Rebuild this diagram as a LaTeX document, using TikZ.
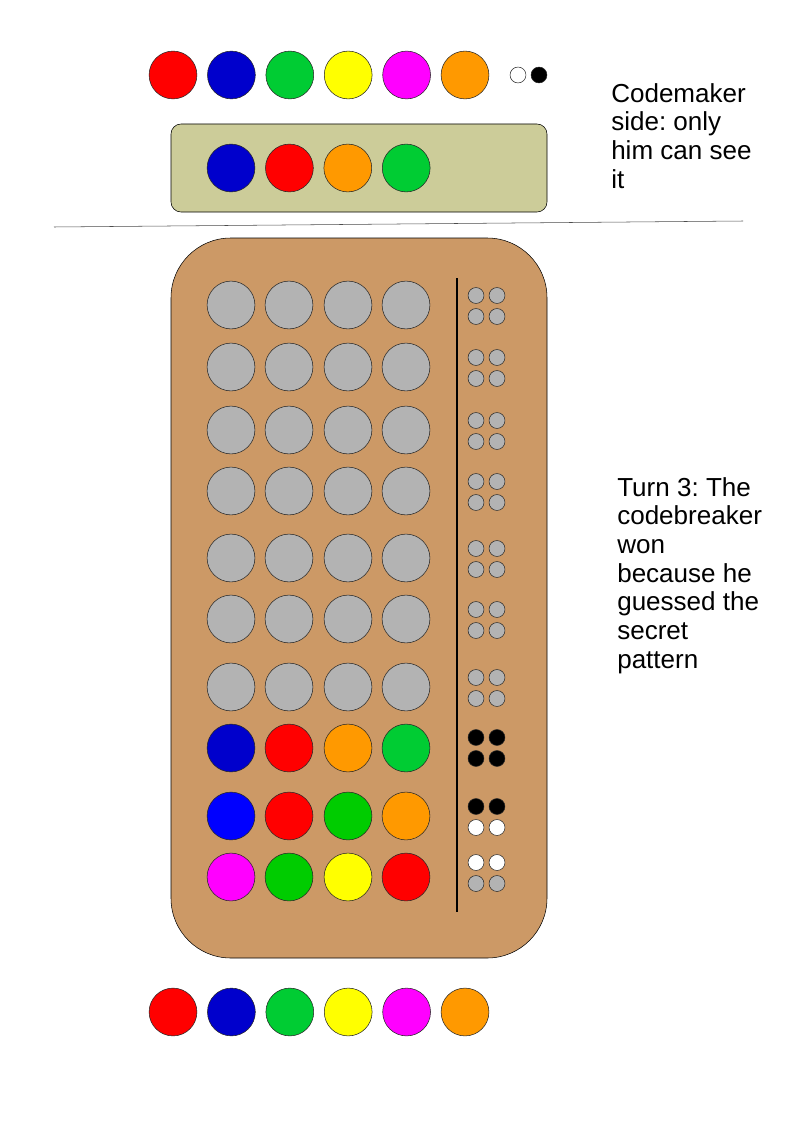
\documentclass[tikz,border=0pt]{standalone}
\usepackage{fontspec}
\setmainfont{Liberation Sans}
\usetikzlibrary{positioning}
\definecolor{pegred}{HTML}{FF0000}
\definecolor{pegblue}{HTML}{0000CC}
\definecolor{pegbrightblue}{HTML}{0000FF}
\definecolor{peggreen}{HTML}{00CC33}
\definecolor{peglime}{HTML}{00CC00}
\definecolor{pegyellow}{HTML}{FFFF00}
\definecolor{pegmagenta}{HTML}{FF00FF}
\definecolor{pegorange}{HTML}{FF9900}
\definecolor{peggray}{HTML}{B3B3B3}
\definecolor{boardbrown}{HTML}{CC9966}
\definecolor{shieldkhaki}{HTML}{CCCC99}
\frenchspacing

\begin{document}
\begin{tikzpicture}[x=0.02646cm,y=-0.02646cm,
    peg/.style={circle, draw=black!85, minimum size=36pt, inner sep=0pt},
    keypeg/.style={circle, draw=black!85, minimum size=12pt, inner sep=0pt},
    note/.style={anchor=north west, align=left, inner sep=0pt, font=\fontsize{19.6}{21.6}\selectfont}
]
    \useasboundingbox (0,0) rectangle (794,1123);

    % colours on offer (top)
    \foreach \c [count=\i] in {pegred,pegblue,peggreen,pegyellow,pegmagenta,pegorange}
        \node[peg, fill=\c] (top\i) at ({173+58.4*(\i-1)},75) {};
    \node[keypeg, fill=white] (topwhite) at (518,75) {};
    \node[keypeg, fill=black] (topblack) at (539,75) {};

    % hidden code
    \draw[fill=shieldkhaki, rounded corners=7.5pt] (171,124) rectangle (547,212);
    \foreach \c [count=\i] in {pegblue,pegred,pegorange,peggreen}
        \node[peg, fill=\c] (code\i) at ({231+58.4*(\i-1)},168) {};

    \node[note] (makernote) at (611,83) {Codemaker\\side: only\\him can see\\it};

    % separator
    \coordinate (sepl) at (54,227);
    \coordinate (sepr) at (743,221);
    \draw[black!70] (sepl) -- (sepr);

    % board
    \draw[fill=boardbrown, rounded corners=45pt] (171,238) rectangle (547,958);
    \draw[line width=1.5pt] (457,278) -- (457,912);

    % guesses
    \foreach \y/\a/\b/\c/\d [count=\r] in {
        305/peggray/peggray/peggray/peggray,
        367/peggray/peggray/peggray/peggray,
        430/peggray/peggray/peggray/peggray,
        491/peggray/peggray/peggray/peggray,
        558/peggray/peggray/peggray/peggray,
        619/peggray/peggray/peggray/peggray,
        687/peggray/peggray/peggray/peggray,
        748/pegblue/pegred/pegorange/peggreen,
        816/pegbrightblue/pegred/peglime/pegorange,
        877/pegmagenta/peglime/pegyellow/pegred}
    {
        \node[peg, fill=\a] (g\r a) at (231,\y) {};
        \node[peg, fill=\b] (g\r b) at (289,\y) {};
        \node[peg, fill=\c] (g\r c) at (348,\y) {};
        \node[peg, fill=\d] (g\r d) at (406,\y) {};
    }

    % feedback
    \foreach \y/\a/\b/\c/\d [count=\r] in {
        306/peggray/peggray/peggray/peggray,
        368/peggray/peggray/peggray/peggray,
        431/peggray/peggray/peggray/peggray,
        492/peggray/peggray/peggray/peggray,
        559/peggray/peggray/peggray/peggray,
        620/peggray/peggray/peggray/peggray,
        688/peggray/peggray/peggray/peggray,
        748/black/black/black/black,
        817/black/black/white/white,
        873/white/white/peggray/peggray}
    {
        \node[keypeg, fill=\a] (k\r a) at (476,\y-10.5) {};
        \node[keypeg, fill=\b] (k\r b) at (497,\y-10.5) {};
        \node[keypeg, fill=\c] (k\r c) at (476,\y+10.5) {};
        \node[keypeg, fill=\d] (k\r d) at (497,\y+10.5) {};
    }

    \node[note] (turnnote) at (617,477) {Turn 3: The\\codebreaker\\won\\because he\\guessed the\\secret\\pattern};

    % colours on offer (bottom)
    \foreach \c [count=\i] in {pegred,pegblue,peggreen,pegyellow,pegmagenta,pegorange}
        \node[peg, fill=\c] (bot\i) at ({173+58.4*(\i-1)},1012) {};
\end{tikzpicture}
\end{document}
